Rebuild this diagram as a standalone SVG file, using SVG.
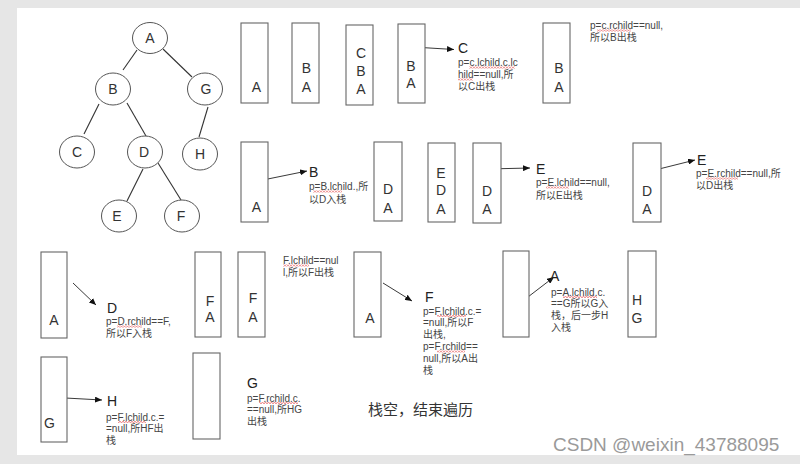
<svg xmlns="http://www.w3.org/2000/svg" width="800" height="464" viewBox="0 0 800 464">
<defs>
<marker id="ah" markerWidth="8" markerHeight="6" refX="7" refY="3" orient="auto" markerUnits="userSpaceOnUse">
<path d="M0,0 L7,3 L0,6 z" fill="#111"/>
</marker>
<pattern id="sq" width="3" height="2" patternUnits="userSpaceOnUse">
<path d="M0,1.6 L1.5,0.4 L3,1.6" fill="none" stroke="#e03030" stroke-width="0.7"/>
</pattern>
<style>
.bg{fill:#e6e6e6}
.pg{fill:#ffffff}
.nd{fill:#ffffff;stroke:#555;stroke-width:1}
.st{fill:#ffffff;stroke:#666;stroke-width:1.1}
.ed{stroke:#333;stroke-width:1.1;fill:none}
.ar{stroke:#222;stroke-width:0.9;fill:none;marker-end:url(#ah)}
.big{font-family:"Liberation Sans","Noto Sans CJK SC",sans-serif;font-size:14px;fill:#333;text-anchor:middle}
.lab{font-family:"Liberation Sans","Noto Sans CJK SC",sans-serif;font-size:14px;fill:#222}
.sm{font-family:"Liberation Sans","Noto Sans CJK SC",sans-serif;font-size:10px;fill:#444}
.cn{font-family:"Liberation Sans","Noto Sans CJK SC",sans-serif;font-size:15px;fill:#333}
.wm{font-family:"Liberation Sans",sans-serif;font-size:19px;fill:#9a9a9a}
.sq{fill:url(#sq)}
</style>
</defs>
<rect class="bg" x="0" y="0" width="800" height="464"/>
<rect class="pg" x="17" y="8" width="783" height="447"/>

<g id="edges">
<line class="ed" x1="137" y1="50" x2="123" y2="70"/>
<line class="ed" x1="163" y1="49" x2="192" y2="77"/>
<line class="ed" x1="99" y1="104" x2="84" y2="134"/>
<line class="ed" x1="127" y1="103" x2="146" y2="136"/>
<line class="ed" x1="208" y1="107" x2="199" y2="137"/>
<line class="ed" x1="143" y1="169" x2="127" y2="201"/>
<line class="ed" x1="158" y1="163" x2="181" y2="200"/>
</g>
<g id="tA"><ellipse class="nd" cx="150" cy="38" rx="17.5" ry="15.5"/><text class="big" x="150" y="43">A</text></g>
<g id="tB"><ellipse class="nd" cx="113" cy="89" rx="17.5" ry="16"/><text class="big" x="113" y="94">B</text></g>
<g id="tG"><ellipse class="nd" cx="205" cy="89" rx="17.5" ry="16"/><text class="big" x="206" y="94">G</text></g>
<g id="tC"><ellipse class="nd" cx="77" cy="152" rx="17.5" ry="16"/><text class="big" x="77" y="157">C</text></g>
<g id="tD"><ellipse class="nd" cx="145" cy="152" rx="17.5" ry="16"/><text class="big" x="144" y="157">D</text></g>
<g id="tH"><ellipse class="nd" cx="200" cy="154" rx="17.5" ry="16"/><text class="big" x="200" y="159">H</text></g>
<g id="tE"><ellipse class="nd" cx="119" cy="216" rx="17.5" ry="16"/><text class="big" x="117" y="221">E</text></g>
<g id="tF"><ellipse class="nd" cx="182" cy="216" rx="17.5" ry="16"/><text class="big" x="181" y="221">F</text></g>

<g id="arrows">
<line class="ar" x1="413" y1="47" x2="454" y2="49.5"/>
<line class="ar" x1="253" y1="182" x2="307" y2="171"/>
<line class="ar" x1="487" y1="169" x2="530" y2="168"/>
<line class="ar" x1="651" y1="171" x2="695" y2="160"/>
<line class="ar" x1="73" y1="283" x2="96" y2="305"/>
<line class="ar" x1="383" y1="283" x2="412" y2="301"/>
<line class="ar" x1="511" y1="310" x2="554" y2="277"/>
<line class="ar" x1="47" y1="397" x2="102" y2="400"/>
</g>

<g id="s1"><rect class="st" x="241" y="23" width="27" height="80"/><text class="big" x="256.5" y="92">A</text></g>
<g id="s2"><rect class="st" x="292" y="23" width="27" height="80"/><text class="big" x="306.5" y="73">B</text><text class="big" x="306.5" y="92">A</text></g>
<g id="s3"><rect class="st" x="346" y="25" width="27" height="80"/><text class="big" x="361" y="58">C</text><text class="big" x="361" y="76">B</text><text class="big" x="361" y="94">A</text></g>
<g id="s4"><rect class="st" x="398" y="24" width="27" height="79"/><text class="big" x="411" y="71">B</text><text class="big" x="411" y="88">A</text></g>
<g id="n1"><text class="lab" x="458" y="53">C</text>
<text class="sm" x="458" y="66">p=c.lchild.c.lc</text><text class="sm" x="458" y="78">hild==null,所</text><text class="sm" x="458" y="90">以C出栈</text>
<rect class="sq" x="469" y="66.5" width="46" height="2"/><rect class="sq" x="458" y="78.5" width="15" height="2"/></g>
<g id="s5"><rect class="st" x="543" y="23" width="27" height="80"/><text class="big" x="559" y="73">B</text><text class="big" x="559" y="92">A</text></g>
<g id="n2"><text class="sm" x="590" y="29">p=c.rchild==null,</text><text class="sm" x="590" y="41">所以B出栈</text>
<rect class="sq" x="597" y="29.5" width="34" height="2"/></g>

<g id="s6"><rect class="st" x="241" y="142" width="27" height="80"/><text class="big" x="256.5" y="212">A</text></g>
<g id="n3"><text class="lab" x="309" y="177">B</text><text class="sm" x="309" y="190">p=B.lchild.,所</text><text class="sm" x="309" y="203">以D入栈</text>
<rect class="sq" x="313" y="190.5" width="29" height="2"/></g>
<g id="s7"><rect class="st" x="374" y="142" width="28" height="79"/><text class="big" x="388" y="194">D</text><text class="big" x="388" y="213">A</text></g>
<g id="s8"><rect class="st" x="428" y="143" width="27" height="79"/><text class="big" x="441" y="178">E</text><text class="big" x="441" y="195">D</text><text class="big" x="441" y="214">A</text></g>
<g id="s9"><rect class="st" x="473" y="143" width="28" height="80"/><text class="big" x="487" y="196">D</text><text class="big" x="487" y="214">A</text></g>
<g id="n4"><text class="lab" x="536" y="174">E</text><text class="sm" x="536" y="186">p=E.lchild==null,</text><text class="sm" x="536" y="199">所以E出栈</text>
<rect class="sq" x="546" y="186.5" width="23" height="2"/></g>
<g id="s10"><rect class="st" x="633" y="143" width="28" height="79"/><text class="big" x="647" y="196">D</text><text class="big" x="647" y="214">A</text></g>
<g id="n5"><text class="lab" x="697" y="165">E</text><text class="sm" x="696" y="177">p=E.rchild==null,所</text><text class="sm" x="696" y="189">以D出栈</text>
<rect class="sq" x="706" y="177.5" width="32" height="2"/></g>

<g id="s11"><rect class="st" x="41" y="252" width="26" height="86"/><text class="big" x="54" y="325">A</text></g>
<g id="n6"><text class="lab" x="107" y="313">D</text><text class="sm" x="106" y="325">p=D.rchild==F,</text><text class="sm" x="106" y="337">所以F入栈</text>
<rect class="sq" x="117" y="325.5" width="25" height="2"/></g>
<g id="s12"><rect class="st" x="195" y="252" width="26" height="85"/><text class="big" x="210" y="306">F</text><text class="big" x="210" y="322">A</text></g>
<g id="s13"><rect class="st" x="238" y="252" width="27" height="85"/><text class="big" x="253" y="303">F</text><text class="big" x="253" y="322">A</text></g>
<g id="n7"><text class="sm" x="283" y="264">F.lchild==nul</text><text class="sm" x="283" y="275.5">l,所以F出栈</text>
<rect class="sq" x="283" y="264.5" width="26" height="2"/></g>
<g id="s14"><rect class="st" x="354" y="252" width="27" height="85"/><text class="big" x="370" y="323">A</text></g>
<g id="n8"><text class="lab" x="425" y="302">F</text>
<text class="sm" x="423" y="314.5">p=F.lchild.c.=</text><text class="sm" x="423" y="326">=null,所以F</text><text class="sm" x="423" y="337.5">出栈,</text><text class="sm" x="423" y="350">p=F.rchild==</text><text class="sm" x="423" y="362">null,所以A出</text><text class="sm" x="423" y="373.5">栈</text>
<rect class="sq" x="437" y="315" width="29" height="2"/><rect class="sq" x="437" y="350.5" width="28" height="2"/></g>
<g id="s15"><rect class="st" x="503" y="251" width="26" height="86"/></g>
<g id="n9"><text class="lab" x="550" y="281">A</text>
<text class="sm" x="551" y="295.5">p=A.lchild.c.</text><text class="sm" x="551" y="307">==G所以G入</text><text class="sm" x="551" y="318.5">栈，后一步H</text><text class="sm" x="551" y="330.5">入栈</text>
<rect class="sq" x="563" y="296" width="34" height="2"/></g>
<g id="s16"><rect class="st" x="628" y="251" width="28" height="86"/><text class="big" x="637" y="305">H</text><text class="big" x="637" y="323">G</text></g>

<g id="s17"><rect class="st" x="41" y="357" width="26" height="85"/><text class="big" x="49.5" y="428">G</text></g>
<g id="n10"><text class="lab" x="107" y="406">H</text>
<text class="sm" x="106" y="420.5">p=F.lchild.c.=</text><text class="sm" x="106" y="432">=null,所HF出</text><text class="sm" x="106" y="443.5">栈</text>
<rect class="sq" x="118" y="421" width="28" height="2"/></g>
<g id="s18"><rect class="st" x="193" y="353" width="27" height="86"/></g>
<g id="n11"><text class="lab" x="247" y="388">G</text>
<text class="sm" x="247" y="401.5">p=F.rchild.c.</text><text class="sm" x="247" y="413">==null,所HG</text><text class="sm" x="247" y="424.5">出栈</text>
<rect class="sq" x="259" y="402" width="39" height="2"/></g>
<g id="end"><text class="cn" x="368" y="415">栈空，结束遍历</text></g>
<text class="wm" x="553" y="451">CSDN @weixin_43788095</text>
</svg>
